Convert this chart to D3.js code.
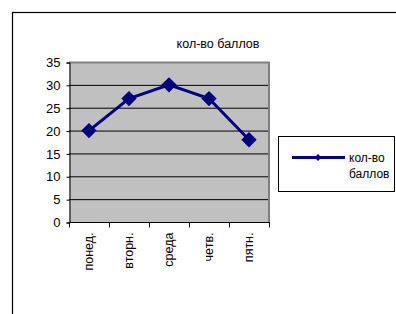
<!DOCTYPE html>
<html>
<head>
<meta charset="utf-8">
<script src="https://cdn.jsdelivr.net/npm/d3@7"></script>
<style>
  body { margin: 0; background: #fff; }
  text { font-family: Arial, "Liberation Sans", sans-serif; fill: #000; }
</style>
</head>
<body>
<svg id="chart" width="396" height="314"></svg>
<script>
// data
const days = ["понед.", "вторн.", "среда", "четв.", "пятн."];
const scores = [20, 27, 30, 27, 18];
const yTicks = [0, 5, 10, 15, 20, 25, 30, 35];
const seriesName = "кол-во баллов";
const legendLines = ["кол-во", "баллов"];

const svg = d3.select("#chart");
const plot = { left: 69, right: 269, top: 62, bottom: 222 };

// outer chart frame (only left and top edges are visible)
svg.append("rect")
    .attr("x", 12.5).attr("y", 12.5)
    .attr("width", 500).attr("height", 500)
    .attr("fill", "none")
    .attr("stroke", "#000")
    .attr("stroke-width", 1.2);

const x = d3.scaleBand()
    .domain(days)
    .range([plot.left, plot.right]);

const y = d3.scaleLinear()
    .domain([0, 35])
    .range([plot.bottom, plot.top]);

// plot background
svg.append("rect")
    .attr("x", plot.left).attr("y", plot.top)
    .attr("width", plot.right - plot.left)
    .attr("height", plot.bottom - plot.top)
    .attr("fill", "#c0c0c0");

// gridlines
svg.append("g")
    .selectAll("line")
    .data(yTicks.filter(d => d > 0 && d < 35))
    .join("line")
    .attr("x1", plot.left).attr("x2", plot.right)
    .attr("y1", d => y(d) + 0.5).attr("y2", d => y(d) + 0.5)
    .attr("stroke", "#000")
    .attr("stroke-width", 1);

// gray frame on top and right
svg.append("path")
    .attr("d", `M${plot.left},${plot.top + 0.5}H${plot.right}V${plot.bottom}`)
    .attr("fill", "none")
    .attr("stroke", "#808080")
    .attr("stroke-width", 2);

// y axis
const yAxis = svg.append("g")
    .attr("transform", `translate(${plot.left + 0.5},0.5)`)
    .call(d3.axisLeft(y).tickValues(yTicks).tickSize(3).tickPadding(6));
yAxis.select(".domain").attr("stroke", "#000");
yAxis.selectAll("text")
    .attr("font-size", 13)
    .attr("font-family", "Arial, 'Liberation Sans', sans-serif");

// x axis with ticks between categories
const xAxis = svg.append("g")
    .attr("transform", `translate(0,${plot.bottom + 0.5})`);
xAxis.append("line")
    .attr("x1", plot.left).attr("x2", plot.right + 1)
    .attr("stroke", "#000");
xAxis.selectAll("line.tick")
    .data(days.concat(["end"]))
    .join("line")
    .attr("class", "tick")
    .attr("x1", (d, i) => i < days.length ? x(d) + 0.5 : plot.right + 0.5)
    .attr("x2", (d, i) => i < days.length ? x(d) + 0.5 : plot.right + 0.5)
    .attr("y1", 0).attr("y2", 5)
    .attr("stroke", "#000");
xAxis.selectAll("text")
    .data(days)
    .join("text")
    .attr("transform", d => `translate(${x(d) + x.bandwidth() / 2 + 4},10) rotate(-90)`)
    .attr("text-anchor", "end")
    .attr("font-size", 12.5)
    .text(d => d);

// line series
const cx = d => x(d) + x.bandwidth() / 2;
svg.append("path")
    .datum(scores)
    .attr("d", d3.line().x((d, i) => cx(days[i])).y(d => y(d)))
    .attr("fill", "none")
    .attr("stroke", "#000080")
    .attr("stroke-width", 3);

const diamond = d3.symbol().type(d3.symbolDiamond2);
svg.append("g")
    .selectAll("path")
    .data(scores)
    .join("path")
    .attr("transform", (d, i) => `translate(${cx(days[i])},${y(d)})`)
    .attr("d", diamond.size(150))
    .attr("fill", "#000080");

// title
svg.append("text")
    .attr("x", 218).attr("y", 48)
    .attr("text-anchor", "middle")
    .attr("font-size", 12.5)
    .text(seriesName);

// legend
const legend = svg.append("g");
legend.append("rect")
    .attr("x", 278.5).attr("y", 136.5)
    .attr("width", 116).attr("height", 55)
    .attr("fill", "#fff")
    .attr("stroke", "#000");
legend.append("line")
    .attr("x1", 292).attr("x2", 345)
    .attr("y1", 157.5).attr("y2", 157.5)
    .attr("stroke", "#000080")
    .attr("stroke-width", 3);
legend.append("path")
    .attr("transform", "translate(318,157.5)")
    .attr("d", diamond.size(30))
    .attr("fill", "#000080");
legend.selectAll("text")
    .data(legendLines)
    .join("text")
    .attr("x", 349)
    .attr("y", (d, i) => 162 + i * 16)
    .attr("font-size", 12)
    .text(d => d);
</script>
</body>
</html>
